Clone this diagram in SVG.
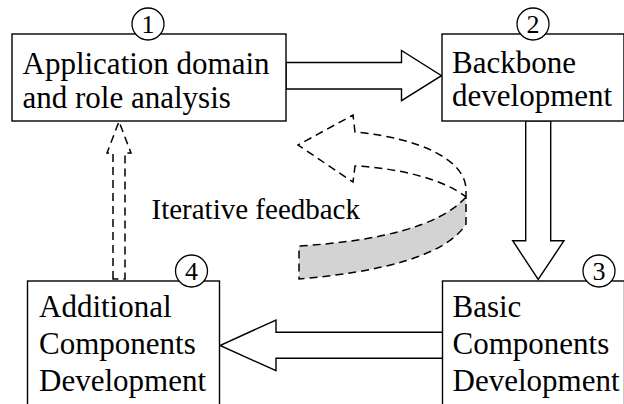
<svg xmlns="http://www.w3.org/2000/svg" width="624" height="404" viewBox="0 0 624 404">
  <defs>
    <style>
      .box { fill: #fff; stroke: #000; stroke-width: 1.4; }
      text { font-family: "Liberation Serif", "Times New Roman", Times, "DejaVu Serif", serif; fill: #000; }
      .lbl { font-size: 31px; }
      .num { font-size: 26px; text-anchor: middle; }
      .badge { fill: #fff; stroke: #000; stroke-width: 1.3; }
      .block { fill: #fff; stroke: #000; stroke-width: 1.4; stroke-linejoin: miter; }
      .dash { fill: none; stroke: #000; stroke-width: 1.5; stroke-dasharray: 8 5; }
      .note { font-size: 29px; }
    </style>
  </defs>

  <!-- connectors: hollow block arrows and the dashed feedback arrows -->
  <g id="connectors">
    <polygon class="block" points="286,62.5 401.5,62.5 401.5,50.5 441.5,75.7 401.5,100.7 401.5,89 286,89"/>
    <polygon class="block" points="525.7,120.7 525.7,240.7 512.7,240.7 538.2,279.5 564,240.7 550.7,240.7 550.7,120.7"/>
    <polygon class="block" points="443,332.3 276,332.3 276,320 220,345.5 276,370.7 276,358.3 443,358.3"/>
    <polygon class="dash" points="113,279 113,153 107,153 119,121.5 131,153 125,153 125,279"/>

    <!-- curved iterative feedback arrow -->
    <g id="feedback">
      <path d="M466,197 C440,226 380,241 299,246 L299,279 C380,272 446,256 466,224 Z" fill="#d3d3d3" stroke="none"/>
      <path class="dash" d="M466,197 C440,226 380,241 299,246 L299,279 C380,272 446,256 466,224 L466,190 C466,160 420,138 355,132 L353,115 L298,145 L353,182 L355,166 C400,168 445,180 466,197"/>
    </g>
  </g>

  <g id="node1">
    <rect class="box" x="12" y="34" width="274" height="87"/>
    <text class="lbl" x="22.5" y="74">Application domain</text>
    <text class="lbl" x="22.5" y="108">and role analysis</text>
    <circle class="badge" cx="148" cy="24" r="16"/>
    <text class="num" x="148" y="33">1</text>
  </g>

  <g id="node2">
    <rect class="box" x="442" y="34" width="182" height="87"/>
    <text class="lbl" x="452" y="72.5">Backbone</text>
    <text class="lbl" x="452" y="106">development</text>
    <circle class="badge" cx="533" cy="24" r="16"/>
    <text class="num" x="533" y="33">2</text>
  </g>

  <g id="node3">
    <rect class="box" x="442.5" y="281" width="182" height="130"/>
    <text class="lbl" x="452.5" y="316.5">Basic</text>
    <text class="lbl" x="452.5" y="353.5">Components</text>
    <text class="lbl" x="452.5" y="390.5">Development</text>
    <circle class="badge" cx="599" cy="271" r="16"/>
    <text class="num" x="599" y="280">3</text>
  </g>

  <g id="node4">
    <rect class="box" x="27.5" y="281" width="192" height="130"/>
    <text class="lbl" x="39" y="316.5">Additional</text>
    <text class="lbl" x="39" y="353.5">Components</text>
    <text class="lbl" x="39" y="390.5">Development</text>
    <circle class="badge" cx="191.5" cy="271" r="16"/>
    <text class="num" x="191.5" y="280">4</text>
  </g>

  <text class="note" x="151.5" y="219.3">Iterative feedback</text>
</svg>
